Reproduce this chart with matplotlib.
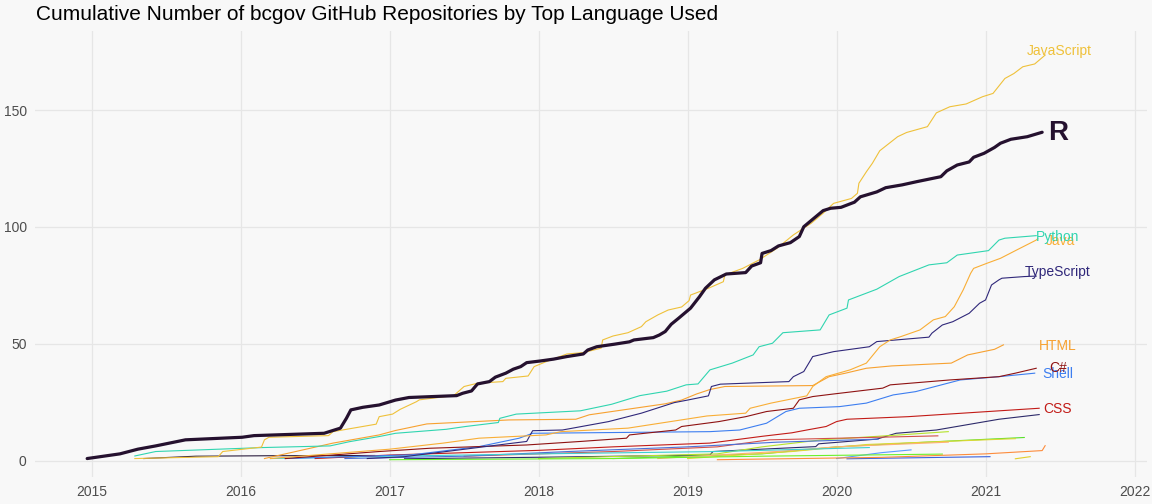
# -*- coding: utf-8 -*-
"""
Cumulative number of bcgov GitHub repos by top language, recreated by hand.
Values read off the reference picture (decimal years, cumulative counts).
"""
import matplotlib
matplotlib.use('Agg')
import matplotlib.pyplot as plt

plt.rcParams['font.family'] = ['Liberation Sans', 'DejaVu Sans']

TITLE = 'Cumulative Number of bcgov GitHub Repositories by Top Language Used'

# labelled languages --------------------------------------------------------
r_years = [2014.97, 2015.19, 2015.31, 2015.43, 2015.63, 2016.01, 2016.09, 2016.56,
           2016.67, 2016.71, 2016.74, 2016.82, 2016.93, 2017.04, 2017.13, 2017.45,
           2017.49, 2017.55, 2017.59, 2017.67, 2017.71, 2017.78, 2017.83, 2017.88,
           2017.92, 2018.01, 2018.10, 2018.19, 2018.30, 2018.33, 2018.39, 2018.51,
           2018.61, 2018.64, 2018.77, 2018.81, 2018.85, 2018.89, 2018.94, 2019.02,
           2019.08, 2019.12, 2019.18, 2019.26, 2019.39, 2019.43, 2019.49, 2019.50,
           2019.56, 2019.61, 2019.69, 2019.75, 2019.78, 2019.84, 2019.91, 2019.96,
           2020.03, 2020.12, 2020.16, 2020.27, 2020.33, 2020.44, 2020.54, 2020.70,
           2020.74, 2020.81, 2020.89, 2020.92, 2020.99, 2021.06, 2021.10, 2021.17,
           2021.28, 2021.38]
r_counts = [1, 3, 5, 6.4, 9, 10.1, 10.8, 11.8, 14, 18.2, 21.8, 22.9, 23.9, 26, 27.1,
            27.9, 28.9, 29.9, 32.9, 33.9, 35.8, 37.5, 39.2, 40.3, 42.0, 42.7, 43.5,
            44.6, 45.7, 47.4, 48.8, 49.9, 50.9, 51.7, 52.7, 53.8, 55.3, 58.4, 61.0,
            65.3, 70.2, 73.8, 77.4, 79.9, 80.5, 83.3, 84.7, 88.7, 89.9, 91.9, 93.3,
            95.9, 100.1, 103.3, 107.0, 108.0, 108.4, 110.6, 112.9, 115.0, 116.8,
            118.0, 119.4, 121.5, 124.0, 126.5, 127.8, 129.8, 131.5, 134.0, 135.8,
            137.5, 138.6, 140.5]

js_years = [2015.29, 2015.85, 2015.88, 2016.14, 2016.16, 2016.19, 2016.59, 2016.62,
            2016.91, 2016.93, 2017.02, 2017.07, 2017.18, 2017.20, 2017.43, 2017.50,
            2017.59, 2017.76, 2017.78, 2017.93, 2017.97, 2018.05, 2018.19, 2018.30,
            2018.42, 2018.43, 2018.50, 2018.60, 2018.69, 2018.72, 2018.80, 2018.87,
            2018.96, 2019.01, 2019.02, 2019.14, 2019.24, 2019.25, 2019.37, 2019.48,
            2019.60, 2019.71, 2019.83, 2019.91, 2019.98, 2020.10, 2020.14, 2020.15,
            2020.20, 2020.24, 2020.29, 2020.41, 2020.47, 2020.61, 2020.67, 2020.76,
            2020.87, 2020.98, 2021.05, 2021.13, 2021.19, 2021.25, 2021.33, 2021.40]
js_counts = [1, 1.8, 4, 5.9, 9, 10.1, 10.8, 12.5, 15.7, 18.9, 20, 22, 25.3, 26.1,
             27.9, 31.8, 33.2, 33.9, 35.3, 36.3, 40.3, 42.4, 45.7, 46.3, 48.2, 51.7,
             53.4, 54.8, 57.4, 59.5, 62.4, 64.5, 65.8, 68.5, 70.9, 73.8, 76.6, 79.5,
             82.3, 85.9, 90.9, 96.6, 101.6, 105.9, 110.1, 112.2, 114.4, 118.7, 123.6,
             127.2, 132.6, 138.6, 140.4, 142.9, 148.8, 151.4, 152.6, 155.7, 157.1,
             163.5, 165.6, 168.5, 169.7, 173.5]

py_years = [2015.29, 2015.43, 2016.15, 2016.60, 2016.73, 2016.93, 2017.04, 2017.38,
            2017.51, 2017.73, 2017.74, 2017.85, 2018.28, 2018.49, 2018.68, 2018.86,
            2018.99, 2019.07, 2019.15, 2019.30, 2019.44, 2019.48, 2019.57, 2019.64,
            2019.89, 2019.95, 2020.07, 2020.08, 2020.27, 2020.42, 2020.62, 2020.74,
            2020.81, 2021.02, 2021.09, 2021.13, 2021.34]
py_counts = [2.1, 4, 5.7, 6.4, 8.2, 10.4, 11.8, 13.5, 14.7, 16.4, 18.2, 20, 21.4,
             24.2, 27.9, 29.8, 32.5, 32.9, 38.9, 41.8, 45.3, 48.8, 50.3, 54.8, 56,
             62.4, 65.3, 68.8, 73.4, 78.8, 83.8, 84.7, 88, 89.9, 94.4, 95.2, 96.3]

java_years = [2016.20, 2016.60, 2017.00, 2017.36, 2017.60, 2018.05, 2018.15, 2018.60,
              2019.13, 2019.39, 2019.42, 2019.56, 2019.80, 2019.84, 2019.93, 2020.09,
              2020.20, 2020.29, 2020.36, 2020.43, 2020.56, 2020.65, 2020.73, 2020.79,
              2020.85, 2020.90, 2020.92, 2021.01, 2021.10, 2021.21, 2021.34, 2021.35]
java_counts = [1, 3, 5, 7.6, 9.7, 11.1, 12.5, 14, 19.2, 20.4, 22.5, 24.7, 27.8, 31.8,
               36, 38.9, 41.8, 48.8, 51.7, 53.1, 56, 60.3, 61.7, 65.9, 73.1, 80.2,
               82.3, 84.5, 86.6, 90.2, 94.4, 95]

ts_years = [2016.85, 2017.10, 2017.38, 2017.83, 2017.92, 2017.96, 2018.16, 2018.47,
            2018.69, 2018.91, 2019.00, 2019.14, 2019.16, 2019.22, 2019.68, 2019.71,
            2019.78, 2019.84, 2019.98, 2020.22, 2020.27, 2020.62, 2020.64, 2020.71,
            2020.78, 2020.89, 2020.96, 2021.00, 2021.04, 2021.09, 2021.11, 2021.26,
            2021.34]
ts_counts = [1, 1.8, 4, 7.6, 8.3, 12.9, 13.2, 16.8, 20.4, 24.9, 26, 27.8, 31.8, 32.8,
             33.9, 36, 38.2, 44.6, 46.7, 48.8, 51, 52.9, 54.6, 58.1, 59.5, 63.1, 67.4,
             68.8, 75.2, 77.4, 78.1, 78.8, 79]

html_years = [2016.16, 2016.37, 2016.62, 2016.93, 2017.04, 2017.25, 2017.80, 2018.25,
              2018.34, 2018.85, 2018.96, 2019.06, 2019.15, 2019.25, 2019.84, 2019.95,
              2020.06, 2020.20, 2020.37, 2020.77, 2020.88, 2021.06, 2021.12]
html_counts = [1, 4, 7.6, 11.1, 13, 15.8, 17.5, 17.8, 19.7, 24.4, 26, 28.6, 30.5,
               31.8, 32.2, 36, 37.5, 39.6, 40.6, 41.8, 45.3, 47.7, 49.6]

cs_years = [2016.30, 2016.93, 2017.27, 2017.92, 2018.28, 2018.59, 2018.61, 2018.92,
            2018.96, 2019.21, 2019.39, 2019.53, 2019.71, 2019.75, 2019.84, 2019.98,
            2020.31, 2020.36, 2020.76, 2021.09, 2021.20, 2021.34]
cs_counts = [1, 4, 5.4, 6.8, 8.3, 9.7, 11.1, 13.2, 14.7, 16.8, 18.9, 21.1, 22.5, 26.1,
             27.5, 28.6, 31.1, 32.5, 34.6, 36, 37.5, 39.6]

sh_years = [2016.30, 2017.15, 2017.60, 2017.87, 2017.96, 2019.15, 2019.35, 2019.53,
            2019.66, 2019.75, 2020.02, 2020.20, 2020.38, 2020.53, 2020.83, 2021.09,
            2021.33]
sh_counts = [1, 2.6, 6.1, 9.7, 11.8, 12.5, 13.2, 16.1, 21.1, 22.5, 23.2, 24.7, 28.2,
             29.6, 34.6, 36, 37.5]

css_years = [2016.50, 2017.00, 2018.00, 2018.50, 2019.15, 2019.50, 2019.70, 2019.80,
             2019.93, 2020.00, 2020.07, 2020.48, 2021.36]
css_counts = [1, 2.5, 4.5, 6, 7.6, 10.5, 12, 13.2, 14.7, 16.8, 17.8, 18.9, 22.5]

# small, unlabelled languages ------------------------------------------------
minor_years = [
    [2017.10, 2017.94, 2019.15, 2019.17, 2019.86, 2019.88, 2020.27, 2020.40, 2020.67, 2021.09, 2021.36],
    [2018.00, 2019.20, 2019.50, 2019.90, 2020.40, 2020.75],
    [2017.50, 2018.50, 2019.20, 2019.55, 2020.68],
    [2018.50, 2019.50, 2020.00, 2020.60, 2021.26],
    [2019.00, 2019.70, 2020.20, 2021.20],
    [2018.80, 2019.60, 2020.00, 2020.75],
    [2016.70, 2017.50, 2018.20, 2019.00, 2019.60, 2020.28],
    [2016.20, 2017.00, 2018.00, 2019.20, 2020.22],
    [2020.00, 2020.30, 2020.50],
    [2017.00, 2018.50, 2019.50, 2020.71],
    [2020.07, 2021.03],
    [2019.20, 2020.30, 2021.00, 2021.38, 2021.40],
    [2021.20, 2021.30],
    [2015.35, 2015.70, 2016.20, 2016.90],
]
minor_counts = [
    [0.9, 1.5, 2.5, 4, 6.1, 7.3, 9.3, 11.8, 13.2, 17.8, 19.8],
    [1, 3, 6, 9, 11, 12.5],
    [2, 4, 6, 9, 10.7],
    [1, 3, 6, 8, 10],
    [1, 4, 7, 9.5],
    [1, 4, 6, 8],
    [1, 2, 4, 6, 8, 9.3],
    [1, 2, 3, 4, 5.7],
    [1, 3.5, 4.7],
    [0.5, 1, 2, 2.9],
    [0.9, 1.8],
    [0.5, 1.5, 3, 4.4, 6.5],
    [0.9, 1.8],
    [1, 2, 2.2, 2.3],
]
minor_colors = ['#2d2a6a', '#b5e32c', '#d2504a', '#58e02a', '#dcd834', '#ffb070',
                '#4a70d8', '#3ccfcf', '#5b9bff', '#6cf02a', '#3a62dd', '#fd8c3c',
                '#e2cf2a', '#2b1d3e']

year_ticks = [2015, 2016, 2017, 2018, 2019, 2020, 2021, 2022]
count_ticks = [0, 50, 100, 150]


def main():
    bg = '#f8f8f8'
    fig = plt.figure(figsize=(11.52, 5.04), dpi=100, facecolor=bg)
    ax = fig.add_axes([0.0304, 0.054, 0.9653, 0.885])
    ax.set_facecolor(bg)

    for xs, ys, c in zip(minor_years, minor_counts, minor_colors):
        ax.plot(xs, ys, color=c, lw=0.8)

    # (name, years, counts, colour, label offset px, ha)
    langs = [
        ('CSS', css_years, css_counts, '#c21b17', (4, -1), 'left'),
        ('Shell', sh_years, sh_counts, '#3d7ef0', (8, -1), 'left'),
        ('C#', cs_years, cs_counts, '#8e1212', (13, 0), 'left'),
        ('HTML', html_years, html_counts, '#f7a130', (35, -1), 'left'),
        ('TypeScript', ts_years, ts_counts, '#30287a', (21, 4), 'center'),
        ('Java', java_years, java_counts, '#f9ae36', (8, -2), 'left'),
        ('Python', py_years, py_counts, '#30d5b0', (0, -1), 'left'),
        ('JavaScript', js_years, js_counts, '#efc13a', (14, 4), 'center'),
    ]
    for name, xs, ys, c, off, ha in langs:
        ax.plot(xs, ys, color=c, lw=0.8)
        ax.annotate(name, (xs[-1], ys[-1]), xytext=off, textcoords='offset pixels',
                    ha=ha, va='center', fontsize=10, color=c)

    ax.plot(r_years, r_counts, color='#25112f', lw=2.3, solid_capstyle='round')
    ax.annotate('R', (r_years[-1], r_counts[-1]), xytext=(6, -1),
                textcoords='offset pixels', ha='left', va='center',
                fontsize=20, fontweight='bold', color='#25112f')

    ax.set_xlim(2014.62, 2022.084)
    ax.set_ylim(-6.8, 183.9)
    ax.set_xticks(year_ticks)
    ax.set_xticklabels([str(y) for y in year_ticks])
    ax.set_yticks(count_ticks)
    ax.grid(True, color='#e6e6e6', lw=0.9)
    ax.set_axisbelow(True)
    for s in ax.spines.values():
        s.set_visible(False)
    ax.tick_params(length=0, labelsize=10, labelcolor='#4d4d4d', pad=6)

    fig.text(0.031, 0.972, TITLE, fontsize=15, color='black', va='center', ha='left')

    fig.savefig('out.png', dpi=100, facecolor=bg)
    return 0


if __name__ == '__main__':
    main()
